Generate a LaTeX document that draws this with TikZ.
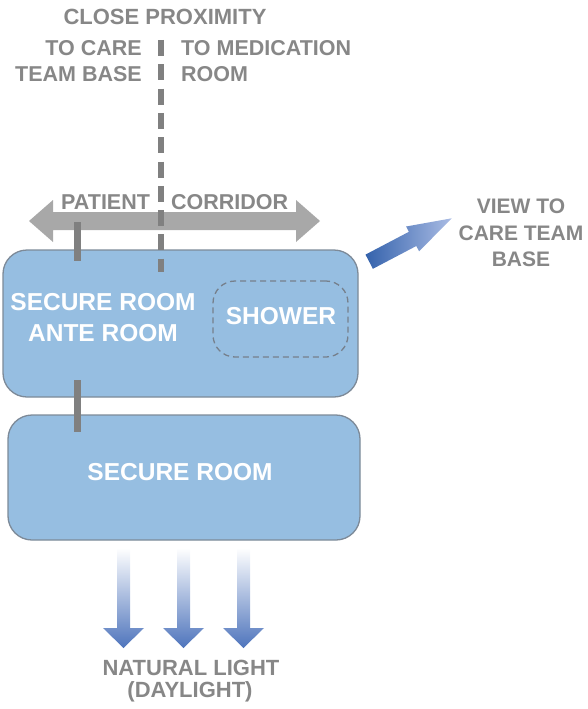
\documentclass[tikz,border=0pt]{standalone}
\usepackage{fontspec}
\setmainfont{Liberation Sans}
\definecolor{roomfill}{RGB}{150,190,225}
\definecolor{roomedge}{RGB}{125,138,152}
\definecolor{labelgray}{RGB}{135,135,135}
\definecolor{corridorgray}{RGB}{168,168,168}
\definecolor{bargray}{RGB}{128,128,128}
\definecolor{showeredge}{RGB}{118,128,140}
\definecolor{viewdark}{RGB}{52,98,172}
\definecolor{viewlight}{RGB}{170,188,228}
\definecolor{lightblue}{RGB}{78,116,188}
\begin{document}
\begin{tikzpicture}[x=1pt, y=-1pt,
  graytext/.style={text=labelgray, inner sep=0pt, font=\fontsize{21.5}{26}\selectfont\bfseries},
  titletext/.style={text=labelgray, inner sep=0pt, font=\fontsize{22}{26}\selectfont\bfseries},
  whitetext/.style={text=white, inner sep=0pt, font=\fontsize{24.5}{31}\selectfont\bfseries},
  room/.style={draw=roomedge, fill=roomfill, line width=1.3pt, rounded corners=24pt, inner sep=0pt},
  showerbox/.style={draw=showeredge, line width=1.3pt, dash pattern=on 6pt off 4pt, rounded corners=22pt, inner sep=0pt},
  doorbar/.style={draw=bargray, line width=7pt},
  proximity/.style={draw=bargray, line width=6pt, dash pattern=on 16pt off 8.3pt},
]
\useasboundingbox (0,0) rectangle (587,709);

% headings above the corridor
\node[titletext] (title) at (165,17) {CLOSE PROXIMITY};
\node[graytext, align=right, anchor=east] (carebase) at (142,61) {TO CARE\\TEAM BASE};
\node[graytext, align=left, anchor=west] (medroom) at (181,61) {TO MEDICATION\\ROOM};

% patient corridor double arrow
\fill[corridorgray] (29,221) -- (53,200) -- (53,212) -- (296,212) -- (296,200)
  -- (320,221) -- (296,242) -- (296,230) -- (53,230) -- (53,242) -- cycle;
\node[graytext, anchor=west] (patient) at (61,202) {PATIENT};
\node[graytext, anchor=west] (corridor) at (171,202) {CORRIDOR};

% rooms
\node[room, minimum width=355pt, minimum height=147pt] (ante) at (180.5,323.5) {};
\node[room, minimum width=352pt, minimum height=125pt] (secure) at (184,477.5) {};
\node[whitetext, align=center] (antelabel) at (103,318) {SECURE ROOM\\ANTE ROOM};
\node[showerbox, minimum width=135pt, minimum height=76pt] (shower) at (280.5,319) {};
\node[whitetext] (showerlabel) at (281,316) {SHOWER};
\node[whitetext] (securelabel) at (180,472) {SECURE ROOM};

% doors and the proximity line
\coordinate (d1top) at (77.5,222);
\coordinate (d1bot) at (77.5,261);
\coordinate (d2top) at (77.5,380);
\coordinate (d2bot) at (77.5,432);
\coordinate (proxtop) at (161,40);
\coordinate (proxbot) at (161,272);
\draw[doorbar] (d1top) -- (d1bot);
\draw[doorbar] (d2top) -- (d2bot);
\draw[proximity] (proxtop) -- (proxbot);

% view arrow
\shade[left color=viewdark, right color=viewlight]
  (365.5,254.6) -- (408.9,231.8) -- (406.1,226.5) -- (451.7,218.3)
  -- (419.1,251.3) -- (416.3,246.0) -- (372.9,268.8) -- cycle;
\node[graytext, align=center, font=\fontsize{21}{26.5}\selectfont\bfseries] (viewlabel) at (521,233) {VIEW TO\\CARE TEAM\\BASE};

% daylight arrows
\foreach \x in {123.5,183.5,243.5}{
  \shade[top color=white, bottom color=lightblue]
    (\x-6.5,548) -- (\x+6.5,548) -- (\x+6.5,628) -- (\x+20.5,628) -- (\x,648)
    -- (\x-20.5,628) -- (\x-6.5,628) -- cycle;
}
\node[graytext, font=\fontsize{22}{24}\selectfont\bfseries] (lightlabel) at (191,668) {NATURAL LIGHT};
\node[graytext, font=\fontsize{22}{24}\selectfont\bfseries] (daylabel) at (190,692) {(DAYLIGHT)};
\end{tikzpicture}
\end{document}
